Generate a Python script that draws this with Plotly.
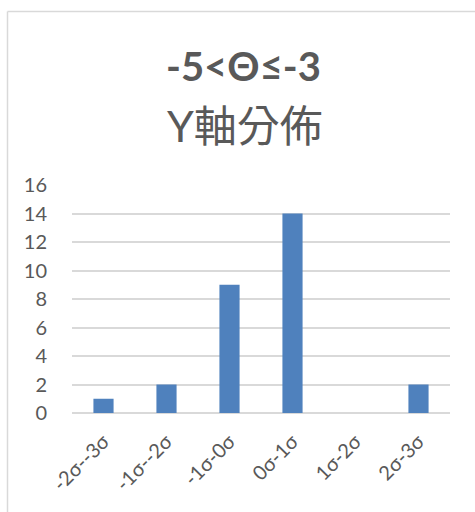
import plotly.graph_objects as go

# Distribution of Y-axis values, counts per sigma band
categories = ["-2σ--3σ", "-1σ--2σ", "-1σ-0σ", "0σ-1σ", "1σ-2σ", "2σ-3σ"]
counts = [1, 2, 9, 14, 0, 2]
y_ticks = [0, 2, 4, 6, 8, 10, 12, 14, 16]

title_main = "-5<Θ≤-3"
title_sub = "Y軸分佈"

W, H = 475, 512
ml, mr, mt, mb = 72, 25, 185, 99
pw, ph = W - ml - mr, H - mt - mb

def px_x(x):
    return (x - ml) / pw

def px_y(y):
    return 1 - (y - mt) / ph

text_color = "#595959"
font_family = "Lato, 'Noto Sans CJK TC', sans-serif"

fig = go.Figure(
    go.Bar(
        x=categories,
        y=counts,
        marker=dict(color="#4f81bd", line=dict(width=0)),
    )
)

fig.update_layout(
    width=W,
    height=H,
    margin=dict(l=ml, r=mr, t=mt, b=mb),
    paper_bgcolor="white",
    plot_bgcolor="white",
    bargap=0.68,
    showlegend=False,
    font=dict(family=font_family, color=text_color),
    xaxis=dict(
        tickangle=-45,
        tickfont=dict(size=20, color=text_color),
        showgrid=False,
        showline=False,
        ticks="",
        ticklabelstandoff=12,
        automargin=False,
    ),
    yaxis=dict(
        range=[0, 16],
        tickvals=y_ticks,
        tickfont=dict(size=20, color=text_color),
        gridcolor="#d9d9d9",
        gridwidth=1.5,
        zeroline=True,
        zerolinecolor="#d9d9d9",
        zerolinewidth=1.5,
        showline=False,
        ticks="",
        ticklabelstandoff=24,
        automargin=False,
    ),
    annotations=[
        dict(
            text="<b>" + title_main + "</b>",
            x=px_x(243), y=px_y(66),
            xref="paper", yref="paper",
            xanchor="center", yanchor="middle",
            showarrow=False,
            font=dict(size=40, color=text_color, family=font_family),
        ),
        dict(
            text=title_sub,
            x=px_x(245), y=px_y(125),
            xref="paper", yref="paper",
            xanchor="center", yanchor="middle",
            showarrow=False,
            font=dict(size=43, color=text_color, family=font_family),
        ),
    ],
    shapes=[
        # chart frame (left and top edges)
        dict(
            type="line", xref="paper", yref="paper",
            x0=px_x(7.5), x1=px_x(7.5), y0=px_y(11.5), y1=px_y(520),
            line=dict(color="#d9d9d9", width=1.5),
        ),
        dict(
            type="line", xref="paper", yref="paper",
            x0=px_x(7.5), x1=px_x(480), y0=px_y(11.5), y1=px_y(11.5),
            line=dict(color="#d9d9d9", width=1.5),
        ),
    ],
)

fig.write_html("out.html")
